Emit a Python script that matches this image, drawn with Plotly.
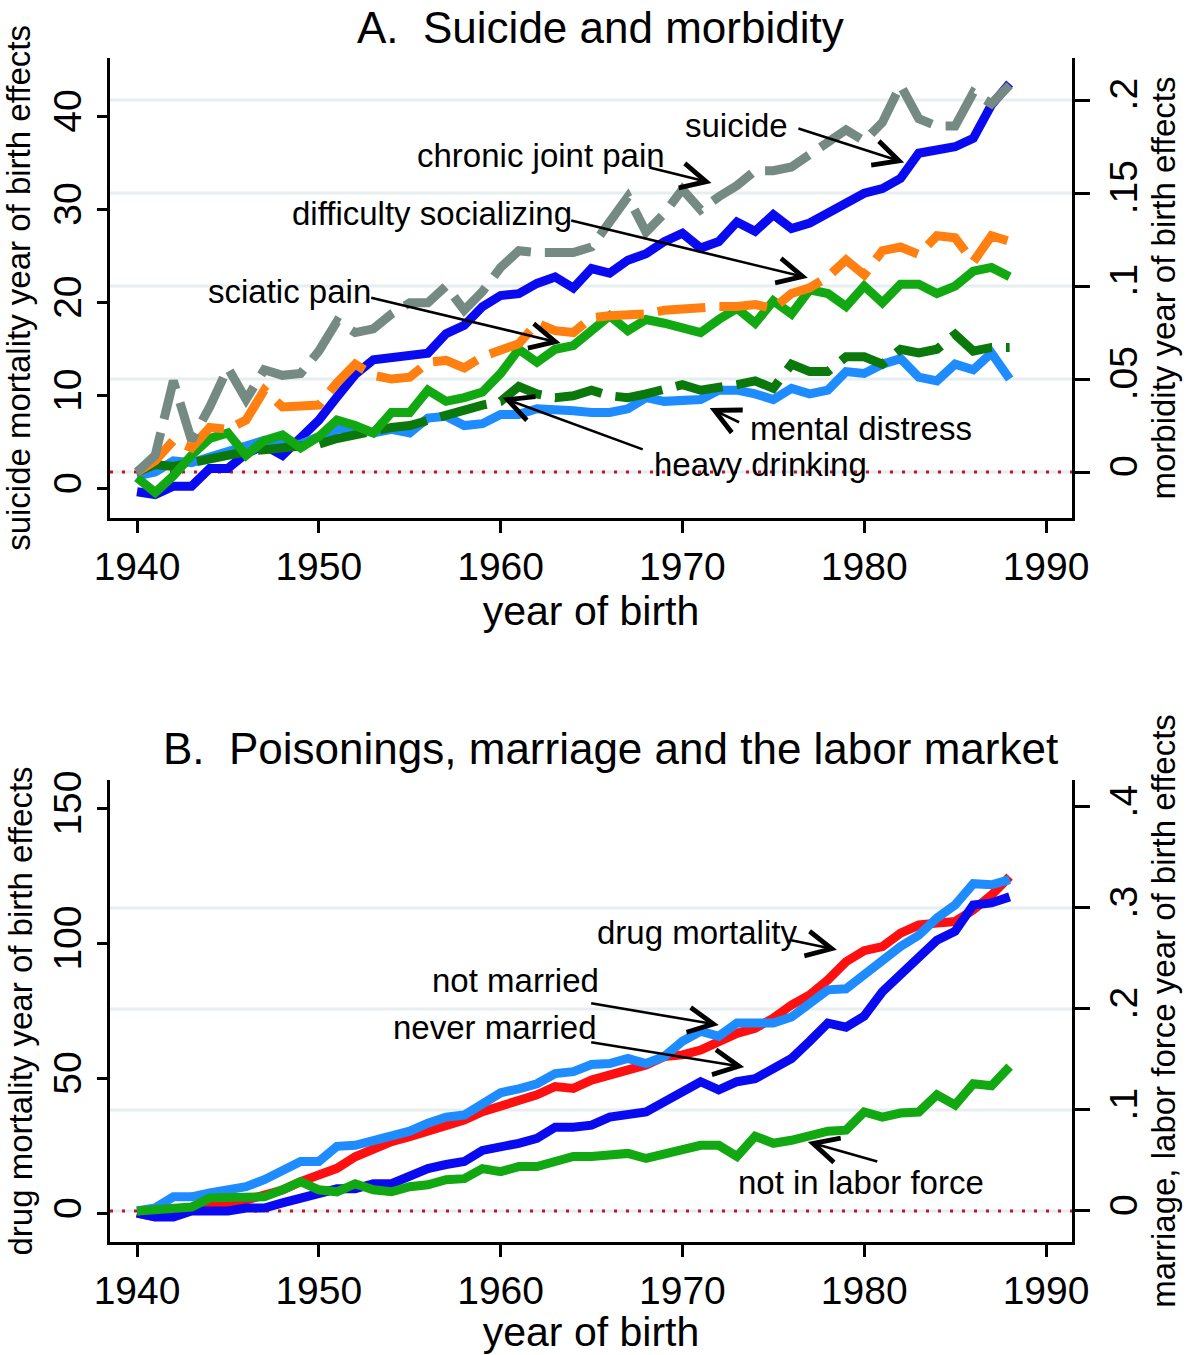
import plotly.graph_objects as go

years = list(range(1940, 1989))
year_ticks = [1940, 1950, 1960, 1970, 1980, 1990]

# ---- panel A: suicide (left axis) and morbidity (right axis)
suicide = [-0.3, -0.6, 0.3, 0.3, 2.2, 2.2, 3.8, 4.7, 3.6, 5.4,
           7.4, 9.9, 12.3, 13.9, 14.2, 14.4, 14.6, 16.7, 17.6, 19.6,
           20.8, 21.0, 22.1, 22.8, 21.6, 23.7, 23.2, 24.6, 25.3, 26.6,
           27.5, 25.9, 26.6, 28.7, 27.7, 29.5, 28.0, 28.6, 29.6, 30.7,
           31.8, 32.3, 33.4, 36.1, 36.5, 36.8, 37.7, 41.3, 43.6]
joint_pain = [0.000, 0.009, 0.049, 0.017, 0.035, 0.056, 0.039, 0.055, 0.052, 0.053,
              0.065, 0.081, 0.075, 0.077, 0.085, 0.091, 0.091, 0.100, 0.087, 0.097,
              0.110, 0.119, 0.118, 0.118, 0.118, 0.121, 0.134, 0.148, 0.129, 0.139,
              0.152, 0.141, 0.148, 0.154, 0.162, 0.162, 0.164, 0.171, 0.178, 0.184,
              0.178, 0.188, 0.208, 0.190, 0.186, 0.186, 0.204, 0.198, 0.208]
socializing = [0.000, 0.006, 0.017, 0.013, 0.024, 0.023, 0.028, 0.044, 0.035, 0.035,
               0.036, 0.048, 0.058, 0.052, 0.050, 0.051, 0.059, 0.060, 0.056, 0.062,
               0.065, 0.069, 0.080, 0.076, 0.075, 0.083, 0.084, 0.084, 0.085, 0.087,
               0.088, 0.088, 0.089, 0.089, 0.090, 0.088, 0.096, 0.099, 0.105, 0.114,
               0.106, 0.119, 0.121, 0.117, 0.127, 0.126, 0.113, 0.127, 0.124]
sciatic = [-0.003, -0.011, -0.002, 0.009, 0.018, 0.021, 0.009, 0.017, 0.020, 0.013,
           0.019, 0.028, 0.025, 0.021, 0.032, 0.032, 0.044, 0.038, 0.040, 0.043,
           0.053, 0.066, 0.059, 0.066, 0.068, 0.076, 0.084, 0.076, 0.082, 0.080,
           0.077, 0.075, 0.082, 0.088, 0.080, 0.092, 0.085, 0.098, 0.096, 0.089,
           0.100, 0.091, 0.101, 0.101, 0.096, 0.100, 0.108, 0.110, 0.105]
mental = [-0.002, 0.000, 0.006, 0.005, 0.008, 0.011, 0.013, 0.017, 0.015, 0.015,
          0.019, 0.023, 0.024, 0.021, 0.023, 0.021, 0.029, 0.030, 0.025, 0.026,
          0.031, 0.031, 0.034, 0.034, 0.033, 0.032, 0.032, 0.034, 0.040, 0.038,
          0.039, 0.039, 0.044, 0.044, 0.042, 0.039, 0.045, 0.042, 0.044, 0.054,
          0.053, 0.058, 0.061, 0.051, 0.049, 0.058, 0.055, 0.064, 0.050]
drinking = [0.000, 0.004, 0.003, 0.005, 0.008, 0.009, 0.011, 0.012, 0.013, 0.014,
            0.015, 0.018, 0.020, 0.023, 0.024, 0.025, 0.028, 0.030, 0.033, 0.036,
            0.038, 0.046, 0.042, 0.040, 0.041, 0.044, 0.041, 0.040, 0.042, 0.044,
            0.047, 0.044, 0.045, 0.047, 0.049, 0.045, 0.058, 0.054, 0.054, 0.062,
            0.062, 0.058, 0.066, 0.064, 0.066, 0.074, 0.065, 0.067, 0.067]

# ---- panel B: drug mortality (left axis), marriage / labor force (right axis)
drug = [0.3, -1.0, 0.3, 2.1, 3.3, 3.3, 5.2, 6.4, 8.9, 12.0,
        14.4, 16.9, 21.2, 24.3, 26.8, 28.6, 30.5, 33.0, 34.8, 37.9,
        40.0, 42.2, 44.1, 47.2, 46.5, 49.6, 51.5, 53.3, 55.2, 58.3,
        58.9, 60.7, 63.8, 66.9, 68.8, 72.5, 77.4, 81.1, 86.7, 93.4,
        97.5, 99.0, 104.0, 107.0, 107.7, 108.3, 112.6, 118.1, 124.9]
not_married = [0.000, 0.003, 0.014, 0.014, 0.018, 0.021, 0.024, 0.031, 0.039, 0.049,
               0.049, 0.064, 0.065, 0.070, 0.074, 0.079, 0.087, 0.093, 0.095, 0.107,
               0.117, 0.121, 0.126, 0.136, 0.138, 0.145, 0.146, 0.151, 0.146, 0.153,
               0.168, 0.178, 0.173, 0.186, 0.186, 0.186, 0.192, 0.206, 0.219, 0.220,
               0.234, 0.249, 0.262, 0.273, 0.290, 0.303, 0.324, 0.323, 0.328]
never_married = [-0.002, -0.006, -0.006, 0.000, 0.000, 0.000, 0.003, 0.003, 0.008, 0.013,
                 0.019, 0.022, 0.022, 0.027, 0.027, 0.034, 0.042, 0.046, 0.049, 0.060,
                 0.063, 0.067, 0.072, 0.083, 0.083, 0.085, 0.093, 0.095, 0.098, 0.108,
                 0.117, 0.128, 0.120, 0.128, 0.131, 0.141, 0.151, 0.168, 0.186, 0.182,
                 0.193, 0.217, 0.234, 0.249, 0.268, 0.277, 0.303, 0.305, 0.311]
not_in_lf = [0.000, 0.001, 0.003, 0.004, 0.013, 0.014, 0.014, 0.014, 0.021, 0.029,
             0.021, 0.019, 0.027, 0.021, 0.019, 0.024, 0.026, 0.031, 0.032, 0.042,
             0.039, 0.044, 0.044, 0.050, 0.054, 0.054, 0.055, 0.057, 0.052, 0.057,
             0.062, 0.065, 0.065, 0.054, 0.074, 0.067, 0.070, 0.075, 0.079, 0.080,
             0.098, 0.093, 0.097, 0.098, 0.115, 0.105, 0.126, 0.124, 0.143]

a_left_ticks = [0, 10, 20, 30, 40]
a_right_ticks = [0, 0.05, 0.1, 0.15, 0.2]
a_right_labels = ["0", ".05", ".1", ".15", ".2"]
b_left_ticks = [0, 50, 100, 150]
b_right_ticks = [0, 0.1, 0.2, 0.3, 0.4]
b_right_labels = ["0", ".1", ".2", ".3", ".4"]
a_grid = [0, 0.05, 0.1, 0.15, 0.2]
b_grid = [0, 0.1, 0.2, 0.3]

FONT = "Liberation Sans, Arial, sans-serif"
BLUE = "#0A0AF0"
LBLUE = "#1E8CFF"
GRAY = "#748A82"
ORANGE = "#FF8010"
GREEN = "#12A812"
DGREEN = "#0A780A"
RED = "#FF1010"
W = 9
DASH = "48px,14px"

fig = go.Figure()


def line(y, color, xa, ya, dash="solid"):
    fig.add_trace(go.Scatter(x=years, y=y, mode="lines", xaxis=xa, yaxis=ya,
                             line=dict(color=color, width=W, dash=dash),
                             showlegend=False, hoverinfo="skip"))


line(suicide, BLUE, "x", "y")
line(mental, LBLUE, "x", "y2")
line(drinking, DGREEN, "x", "y2", DASH)
line(sciatic, GREEN, "x", "y2")
line(socializing, ORANGE, "x", "y2", DASH)
line(joint_pain, GRAY, "x", "y2", DASH)

line(never_married, BLUE, "x2", "y4")
line(drug, RED, "x2", "y3")
line(not_married, LBLUE, "x2", "y4")
line(not_in_lf, GREEN, "x2", "y4")

# grid lines and the dotted zero reference
shapes = []
for g in a_grid:
    shapes.append(dict(type="line", xref="x domain", yref="y2", x0=0, x1=1, y0=g, y1=g,
                       line=dict(color="#E6EEF0", width=3), layer="below"))
for g in b_grid:
    shapes.append(dict(type="line", xref="x2 domain", yref="y4", x0=0, x1=1, y0=g, y1=g,
                       line=dict(color="#E6EEF0", width=3), layer="below"))
shapes.append(dict(type="line", xref="x domain", yref="y2", x0=0, x1=1, y0=0, y1=0,
                   line=dict(color="#C8102E", width=3, dash="3px,9px"), layer="below"))
shapes.append(dict(type="line", xref="x2 domain", yref="y4", x0=0, x1=1, y0=0, y1=0,
                   line=dict(color="#C8102E", width=3, dash="3px,9px"), layer="below"))

# labels: (text, text x, text y, tail x, tail y, head x, head y)
a_labels = [
    ("suicide", 1973.0, 39.1, 1976.3, 38.8, 1982.2, 35.1),
    ("chronic joint pain", 1962.2, 35.9, 1968.1, 34.6, 1971.6, 32.9),
    ("difficulty socializing", 1956.2, 29.6, 1963.8, 28.9, 1976.9, 22.7),
    ("sciatic pain", 1948.4, 21.2, 1952.8, 20.6, 1963.3, 15.7),
    ("mental distress", 1979.8, 6.45, 1973.2, 7.1, 1971.5, 8.7),
    ("heavy drinking", 1974.3, 2.6, 1967.9, 4.2, 1960.1, 9.8),
]
b_labels = [
    ("drug mortality", 1970.8, 104.4, 1975.9, 101.5, 1978.5, 97.8),
    ("not married", 1960.8, 86.3, 1964.9, 78.1, 1972.0, 70.0),
    ("never married", 1959.7, 68.9, 1964.9, 63.7, 1973.4, 54.4),
    ("not in labor force", 1979.8, 11.5, 1980.8, 19.3, 1976.9, 26.7),
]

annotations = []
for labels, xr, yr in [(a_labels, "x", "y"), (b_labels, "x2", "y3")]:
    for text, tx, ty, ax, ay, hx, hy in labels:
        annotations.append(dict(text=text, x=tx, y=ty, xref=xr, yref=yr, showarrow=False,
                                font=dict(size=33, color="black", family=FONT)))
        annotations.append(dict(text="", x=hx, y=hy, xref=xr, yref=yr, ax=ax, ay=ay,
                                axref=xr, ayref=yr, showarrow=True, arrowhead=5,
                                arrowsize=1.9, arrowwidth=2.6, arrowcolor="black"))

annotations.append(dict(text="A.  Suicide and morbidity", x=0.5094, y=1.026,
                        xref="paper", yref="paper", showarrow=False, yanchor="middle",
                        font=dict(size=44, color="black", family=FONT)))
annotations.append(dict(text="B.  Poisonings, marriage and the labor market", x=0.5203,
                        y=0.4172, xref="paper", yref="paper", showarrow=False, yanchor="middle",
                        font=dict(size=44, color="black", family=FONT)))

tickfont = dict(size=39, color="black", family=FONT)
titlefont = dict(size=33, color="black", family=FONT)
common = dict(showline=True, linewidth=3, linecolor="black", ticks="outside",
              tickwidth=2.5, tickcolor="black", showgrid=False, zeroline=False,
              tickfont=tickfont)

fig.update_layout(
    width=1193, height=1355,
    margin=dict(l=110, r=121, t=58, b=113),
    paper_bgcolor="white", plot_bgcolor="white",
    font=dict(family=FONT, color="black"),
    shapes=shapes, annotations=annotations,
    xaxis=dict(domain=[0, 1], anchor="y", range=[1938.515, 1991.43], tickvals=year_ticks,
               ticklen=12, title=dict(text="year of birth", font=dict(size=41), standoff=2),
               **common),
    yaxis=dict(domain=[0.6115, 1], anchor="x", range=[-3.12, 46.34], tickvals=a_left_ticks,
               tickangle=-90, ticklen=10,
               title=dict(text="suicide mortality year of birth effects", font=titlefont, standoff=12),
               **common),
    yaxis2=dict(overlaying="y", side="right", anchor="x", range=[-0.0247, 0.2226],
                tickvals=a_right_ticks, ticktext=a_right_labels, tickangle=-90, ticklen=15,
                title=dict(text="morbidity year of birth effects", font=titlefont, standoff=5),
                **common),
    xaxis2=dict(domain=[0, 1], anchor="y3", range=[1938.515, 1991.43], tickvals=year_ticks,
                ticklen=12, title=dict(text="year of birth", font=dict(size=41), standoff=2),
                **common),
    yaxis3=dict(domain=[0, 0.3902], anchor="x2", range=[-10.37, 160.7], tickvals=b_left_ticks,
                tickangle=-90, ticklen=10,
                title=dict(text="drug mortality year of birth effects", font=titlefont, standoff=4),
                **common),
    yaxis4=dict(overlaying="y3", side="right", anchor="x2", range=[-0.0307, 0.4267],
                tickvals=b_right_ticks, ticktext=b_right_labels, tickangle=-90, ticklen=15,
                title=dict(text="marriage, labor force year of birth effects", font=titlefont,
                           standoff=5),
                **common),
)

fig.write_html("out.html", config={"displayModeBar": False},
               post_script="document.body.style.margin='0';")
